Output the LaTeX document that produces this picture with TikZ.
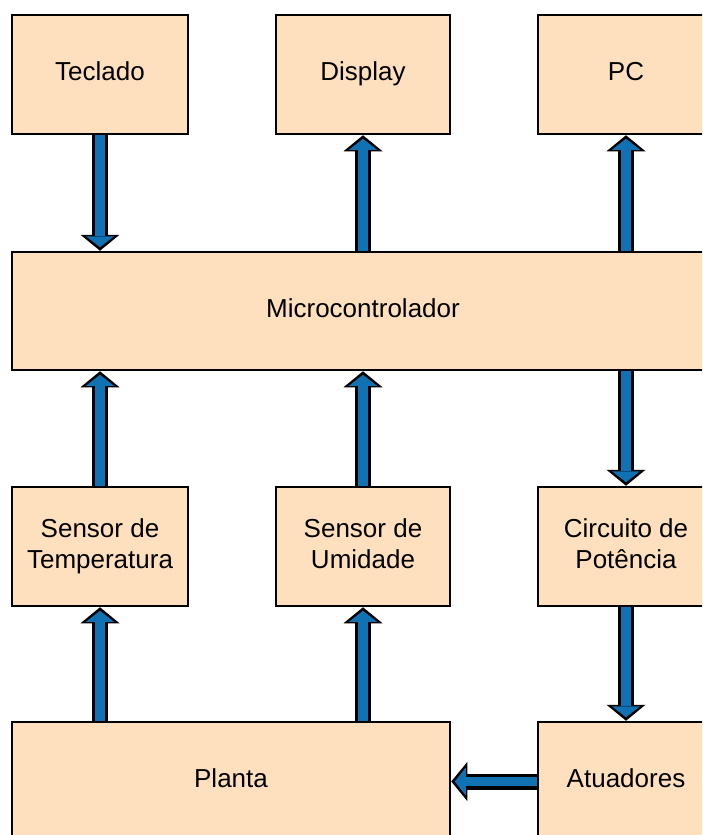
\documentclass[tikz,border=0pt]{standalone}
\usepackage{fontspec}
\setmainfont{Liberation Sans}
\usetikzlibrary{arrows.meta}
\definecolor{boxfill}{RGB}{255,224,190}
\definecolor{flowblue}{RGB}{16,113,179}
\tikzset{
  block/.style={draw=black, fill=boxfill, line width=2.5pt, align=center,
    font=\fontsize{26}{31}\selectfont, inner sep=0pt},
  smallblock/.style={block, minimum width=176pt, minimum height=119pt},
  flowouter/.style={draw=black, line width=16pt,
    -{Triangle[length=16pt, width=39pt, line width=0pt]}},
  flowinner/.style={draw=flowblue, line width=9.5pt, shorten >=3.5pt,
    -{Triangle[length=11pt, width=28pt, line width=0pt]}}
}
\newcommand{\flowarrow}[2]{%
  \draw[flowouter] #1 -- #2;
  \draw[flowinner] #1 -- #2;}
\begin{document}
\begin{tikzpicture}[x=1pt, y=-1pt]
  \useasboundingbox (0,0) rectangle (702,835);
  \clip (0,0) rectangle (702,835);

  % top row
  \node[smallblock] (teclado) at (100,74.5) {Teclado\strut};
  \node[smallblock, minimum width=174pt] (display) at (363,74.5) {Display\strut};
  \node[smallblock] (pc) at (626,74.5) {PC\strut};

  % controller
  \node[block, minimum width=702pt, minimum height=118pt] (micro) at (363,311) {Microcontrolador\strut};

  % sensors and power stage
  \node[smallblock] (temp) at (100,546.5) {Sensor de\strut\\Temperatura\strut};
  \node[smallblock, minimum width=174pt] (umid) at (363,546.5) {Sensor de\strut\\Umidade\strut};
  \node[smallblock] (circ) at (626,546.5) {Circuito de\strut\\Potência\strut};

  % plant and actuators
  \node[block, minimum width=438pt, minimum height=119pt] (planta) at (231,781.5) {Planta\strut};
  \node[smallblock] (atuad) at (626,781.5) {Atuadores\strut};

  % signal flow
  \flowarrow{(teclado.south)}{(teclado.south |- micro.north)}
  \flowarrow{(display.south |- micro.north)}{(display.south)}
  \flowarrow{(pc.south |- micro.north)}{(pc.south)}
  \flowarrow{(temp.north)}{(temp.north |- micro.south)}
  \flowarrow{(umid.north)}{(umid.north |- micro.south)}
  \flowarrow{(circ.north |- micro.south)}{(circ.north)}
  \flowarrow{(temp.south |- planta.north)}{(temp.south)}
  \flowarrow{(umid.south |- planta.north)}{(umid.south)}
  \flowarrow{(circ.south)}{(atuad.north)}
  \flowarrow{(atuad.west)}{(planta.east |- atuad.west)}
\end{tikzpicture}
\end{document}
